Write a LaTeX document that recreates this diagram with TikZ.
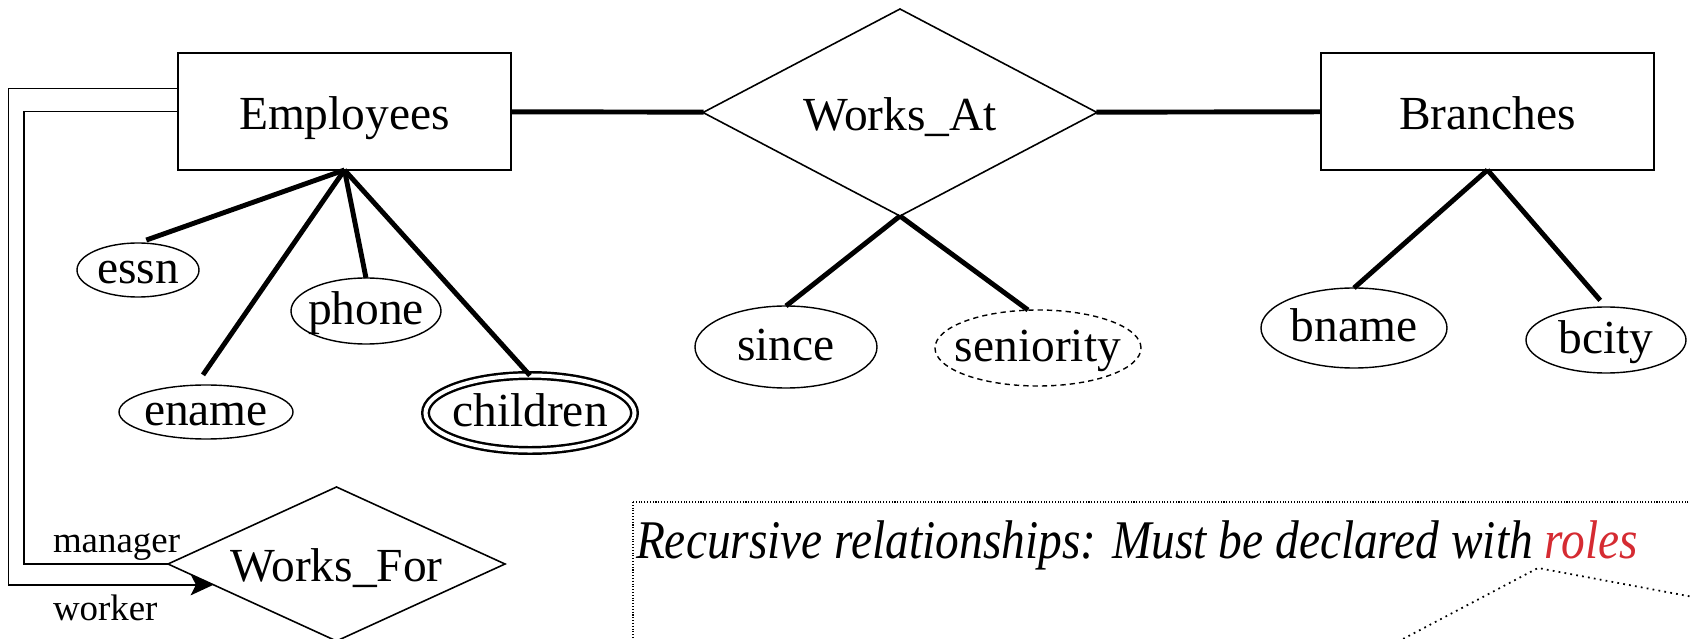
\documentclass[tikz,border=0pt]{standalone}
\usepackage{fontspec}
\setmainfont{Liberation Serif}
\usepackage{tikz}
\usetikzlibrary{shapes.geometric,arrows.meta,calc}
\definecolor{rolered}{RGB}{213,43,50}
\begin{document}
\begin{tikzpicture}[scale=0.2]
\tikzstyle{every node}+=[inner sep=0pt, outer sep=0pt, font=\fontsize{27}{32}\selectfont]
\tikzstyle{entity}=[draw, rectangle, line width=1pt, text height=20pt, text depth=0pt, minimum width=6.66cm, minimum height=2.34cm]
\tikzstyle{relship}=[draw, diamond, line width=0.9pt, text height=20pt, text depth=0pt]
\tikzstyle{attr}=[draw, ellipse, line width=0.8pt, text height=15pt, text depth=0pt, inner xsep=-8pt, inner ysep=-3pt]
\tikzstyle{link}=[line width=2.8pt]
\tikzstyle{roleline}=[line width=1pt]
\tikzstyle{rolelbl}=[anchor=base west, font=\fontsize{21}{25}\selectfont]
\path[use as bounding box] (0,0) rectangle (169,-63.9);
\clip (0,0) rectangle (169,-63.9);
\node [entity] (emp) at (34.45,-11.15) {Employees};
\node [relship, aspect=1.9, minimum width=7.88cm, minimum height=4.14cm] (wa) at (90,-11.25) {Works\_At};
\node [entity] (br) at (148.75,-11.15) {Branches};
\node [relship, aspect=2.19, minimum width=6.74cm, minimum height=3.08cm] (wf) at (33.65,-56.4) {Works\_For};
\node [attr, minimum width=2.44cm, minimum height=1.08cm] (essn) at (13.8,-27) {essn};
\node [attr, minimum width=3.48cm, minimum height=1.08cm] (ename) at (20.6,-41.2) {ename};
\node [attr, minimum width=3cm, minimum height=1.32cm] (phone) at (36.6,-31.1) {phone};
\node [attr, double, line width=1.4pt, double distance=2.3pt, minimum width=4.18cm, minimum height=1.5cm] (child) at (53,-41.3) {children};
\node [attr, minimum width=3.64cm, minimum height=1.64cm] (since) at (78.6,-34.7) {since};
\node [attr, dash pattern=on 3pt off 2.3pt, minimum width=4.12cm, minimum height=1.52cm] (senior) at (103.8,-34.8) {seniority};
\node [attr, minimum width=3.72cm, minimum height=1.6cm] (bname) at (135.4,-32.8) {bname};
\node [attr, minimum width=3.2cm, minimum height=1.32cm] (bcity) at (160.6,-34) {bcity};
\draw [link] (emp) -- (wa);
\draw [link] (wa) -- (br);
\draw [link, shorten >=5pt] (emp.south) -- (essn.north);
\draw [link, shorten >=7pt] (emp.south) -- ($(ename.north)+(-1,0)$);
\draw [link] (emp.south) -- (phone.north);
\draw [link] (emp.south) -- (child.north);
\draw [link] (wa.south) -- (since.north);
\draw [link] (wa.south) -- ($(senior.north)+(-1,0)$);
\draw [link] (br.south) -- (bname.north);
\draw [link, shorten >=5pt] (br.south) -- (bcity.north);
\draw [roleline, -{Stealth[length=13pt, width=12pt, inset=3pt]}] ($(emp.west)+(0,2.3)$) -| (0.85,-30) |- ($(wf.west)!0.27!(wf.south)$);
\draw [roleline] (emp.west) -| (2.4,-30) |- (wf.west);
\node [rolelbl] (mgr) at (5.3,-55.2) {manager};
\node [rolelbl] (wkr) at (5.3,-62) {worker};
\draw [densely dotted, line width=0.6pt] (63.3,-50.2) rectangle (175,-70);
\node [anchor=base west, font=\fontsize{31}{37}\selectfont\itshape] (note) at (63.6,-55.8) {\scalebox{0.87}[1]{Recursive relationships: Must be declared with \textcolor{rolered}{roles}}};
\draw [line width=1pt, dash pattern=on 1pt off 2.4pt] (138.2,-65) -- (153.8,-56.8) -- (172,-60.2);
\end{tikzpicture}
\end{document}
